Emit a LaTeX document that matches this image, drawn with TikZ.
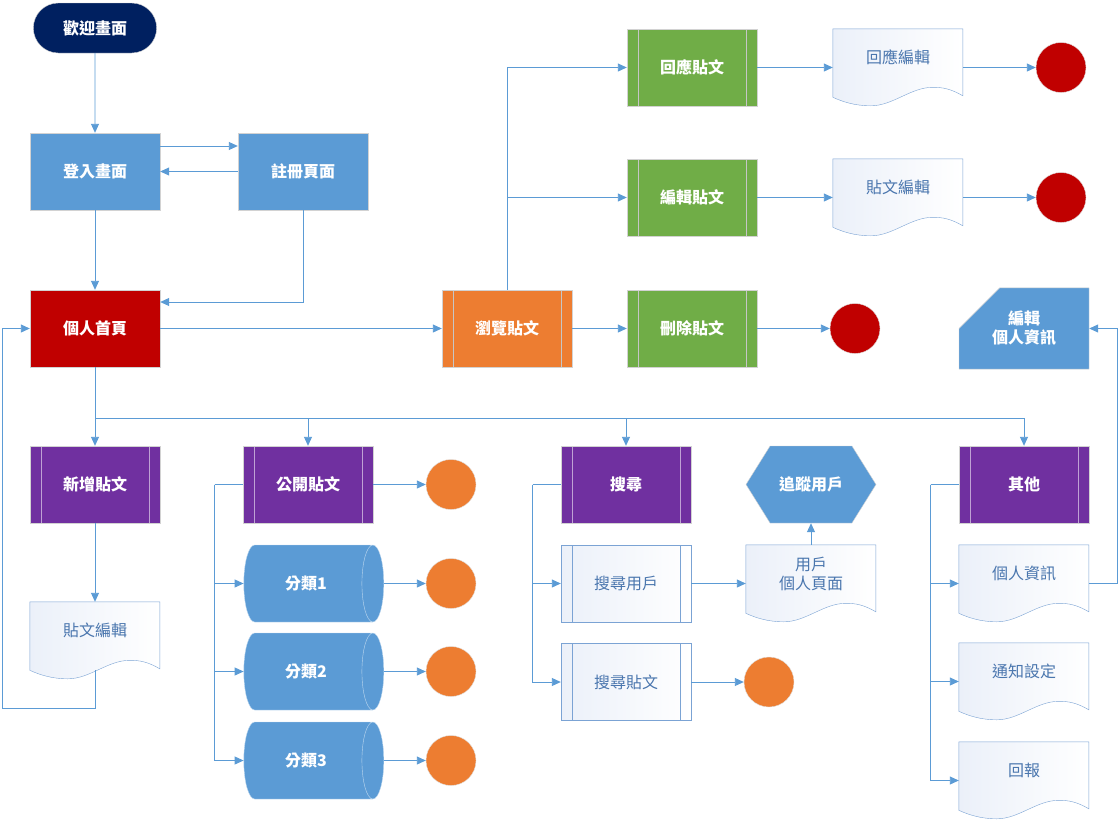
\documentclass[tikz,border=0pt]{standalone}
\usepackage{fontspec}
\setmainfont{Noto Sans CJK TC}
\usetikzlibrary{shapes.geometric,shapes.misc,shapes.symbols,arrows.meta,backgrounds,calc}

\definecolor{navy}{HTML}{002060}
\definecolor{boxblue}{HTML}{5B9BD5}
\definecolor{boxred}{HTML}{C00000}
\definecolor{boxorange}{HTML}{ED7D31}
\definecolor{boxgreen}{HTML}{70AD47}
\definecolor{boxpurple}{HTML}{7030A0}
\definecolor{lineblue}{HTML}{5B9BD5}
\definecolor{paleblue}{HTML}{EBF0F9}
\definecolor{docline}{HTML}{7BA3D4}
\definecolor{doctext}{HTML}{4A76AE}

\begin{document}
\begin{tikzpicture}[x=1pt,y=-1pt,
    box/.style={rectangle,minimum width=130pt,minimum height=77pt,draw=gray!35,text=white,
        font=\fontsize{16}{19}\selectfont\bfseries,align=center},
    prebox/.style={box,path picture={
        \draw[#1] ([xshift=11pt]path picture bounding box.north west) -- ([xshift=11pt]path picture bounding box.south west)
                  ([xshift=-11pt]path picture bounding box.north east) -- ([xshift=-11pt]path picture bounding box.south east);
    }},
    prebox/.default=gray!45,
    litbox/.style={prebox=docline,draw=docline,left color=paleblue,right color=white,
        text=doctext,font=\fontsize{16}{19}\selectfont},
    docu/.style={rectangle,minimum width=130pt,minimum height=77pt,inner sep=0pt},
    doctxt/.style={yshift=10pt,text=doctext,align=center,font=\fontsize{16}{19}\selectfont},
    catbox/.style={cylinder,shape border rotate=0,aspect=1,minimum width=77pt,minimum height=140pt,
        draw=white!60!boxblue,fill=boxblue,text=white,font=\fontsize{16}{19}\selectfont\bfseries},
    endpt/.style={circle,minimum size=50pt,draw=gray!25,fill=#1},
    arr/.style={draw=lineblue,line width=0.9pt,-{Triangle[length=9pt,width=8pt]}},
    wire/.style={draw=lineblue,line width=0.9pt}
]
\useasboundingbox (0,0) rectangle (1119,822);

% login part
\node[box,rounded rectangle,minimum height=50pt,fill=navy] (welcome) at (95,28) {歡迎畫面};
\node[box,fill=boxblue] (login) at (95,171.5) {登入畫面};
\node[box,fill=boxblue] (signup) at (303,171.5) {註冊頁面};
\node[box,fill=boxred] (home) at (95,328.5) {個人首頁};

% browse posts
\node[prebox,fill=boxorange] (browse) at (507,328.5) {瀏覽貼文};
\node[prebox,fill=boxgreen] (reply) at (692,67.5) {回應貼文};
\node[prebox,fill=boxgreen] (editpost) at (692,197.5) {編輯貼文};
\node[prebox,fill=boxgreen] (delpost) at (692,328.5) {刪除貼文};
\node[docu,label={[doctxt]center:回應編輯}] (replyedit) at (898,67.5) {};
\node[docu,label={[doctxt]center:貼文編輯}] (postedit) at (898,197.5) {};
\node[endpt=boxred] (end1) at (1061,67.5) {};
\node[endpt=boxred] (end2) at (1061,197.5) {};
\node[endpt=boxred] (end3) at (855,328.5) {};
\node[box,chamfered rectangle,chamfered rectangle corners=north west,
    chamfered rectangle xsep=21pt,chamfered rectangle ysep=20pt,fill=boxblue] (editinfo) at (1024,328.5) {編輯\\個人資訊};

% lower row
\node[prebox=white!55!boxpurple,fill=boxpurple] (newpost) at (95,484.5) {新增貼文};
\node[docu,label={[doctxt]center:貼文編輯}] (draft) at (95,640.5) {};
\node[prebox=white!55!boxpurple,fill=boxpurple] (public) at (308,484.5) {公開貼文};
\node[endpt=boxorange] (pubend) at (451,484.5) {};
\foreach \i/\y in {1/583.5,2/671.5,3/760.5}{
    \node[catbox] (cat\i) at (306,\y) {分類\i};
    \node[endpt=boxorange] (catend\i) at (451,\y) {};
}
\node[prebox=white!55!boxpurple,fill=boxpurple] (search) at (626,484.5) {搜尋};
\node[litbox] (finduser) at (626,583.5) {搜尋用戶};
\node[litbox] (findpost) at (626,682) {搜尋貼文};
\node[docu,label={[doctxt]center:用戶\\個人頁面}] (userpage) at (811,583.5) {};
\node[box,signal,signal to=west and east,signal pointer angle=116,fill=boxblue] (follow) at (811,484.5) {追蹤用戶};
\node[endpt=boxorange] (findend) at (769,682) {};
\node[prebox=white!55!boxpurple,fill=boxpurple] (other) at (1024,484.5) {其他};
\node[docu,label={[doctxt]center:個人資訊}] (myinfo) at (1024,583.5) {};
\node[docu,label={[doctxt]center:通知設定}] (notify) at (1024,681.5) {};
\node[docu,label={[doctxt]center:回報}] (report) at (1024,780.5) {};

% document outlines
\begin{scope}[on background layer]
\foreach \d in {replyedit,postedit,draft,userpage,myinfo,notify,report}
    \draw[draw=docline,left color=paleblue,right color=white,shift={(\d.north west)}]
        (0,0) -- (130,0) -- (130,67) .. controls (118,60) and (110,58.5) .. (100,58.5)
        .. controls (78,58.5) and (60,77) .. (38,77) .. controls (22,77) and (10,73) .. (0,68.5) -- cycle;
\end{scope}

% connectors
\draw[arr] (welcome) -- (login);
\draw[arr] ([yshift=25.5pt]login.east) -- ([yshift=25.5pt]signup.west);
\draw[arr] (signup) -- (login);
\draw[arr] (login) -- (home);
\draw[arr] (signup.south) |- ([yshift=26.5pt]home.east);
\draw[arr] (home) -- (browse);
\draw[arr] (browse) -- (delpost);
\draw[arr] (delpost) -- (end3);
\draw[arr] (browse.north) |- (reply.west);
\draw[arr] (browse.north |- editpost) -- (editpost);
\draw[arr] (reply) -- (replyedit);
\draw[arr] (replyedit) -- (end1);
\draw[arr] (editpost) -- (postedit);
\draw[arr] (postedit) -- (end2);

\coordinate (split) at ([yshift=-51pt]home.south);
\draw[arr] (home) -- (newpost);
\draw[arr] (split) -| (public.north);
\draw[arr] (split) -| (search.north);
\draw[arr] (split) -| (other.north);
\draw[arr] (newpost) -- (draft);
\draw[arr] ([yshift=9pt]draft.south) -- ++(0,38) -| ([xshift=-27pt]home.west) -- (home.west);

\draw[arr] (public) -- (pubend);
\coordinate (pubbus) at ([xshift=-28pt]public.west);
\draw[wire] (public.west) -- (pubbus);
\foreach \i in {1,2,3}{
    \draw[arr] (pubbus) |- (cat\i);
    \draw[arr] (cat\i) -- (catend\i);
}

\coordinate (findbus) at ([xshift=-28pt]search.west);
\draw[wire] (search.west) -- (findbus);
\draw[arr] (findbus) |- (finduser.west);
\draw[arr] (findbus) |- (findpost.west);
\draw[arr] (finduser) -- (userpage);
\draw[arr] (userpage) -- (follow);
\draw[arr] (findpost) -- (findend);

\coordinate (otherbus) at ([xshift=-28pt]other.west);
\draw[wire] (other.west) -- (otherbus);
\foreach \d in {myinfo,notify,report}
    \draw[arr] (otherbus) |- (\d.west);
\draw[arr] (myinfo.east) -- ++(28,0) |- (editinfo.east);
\end{tikzpicture}
\end{document}
